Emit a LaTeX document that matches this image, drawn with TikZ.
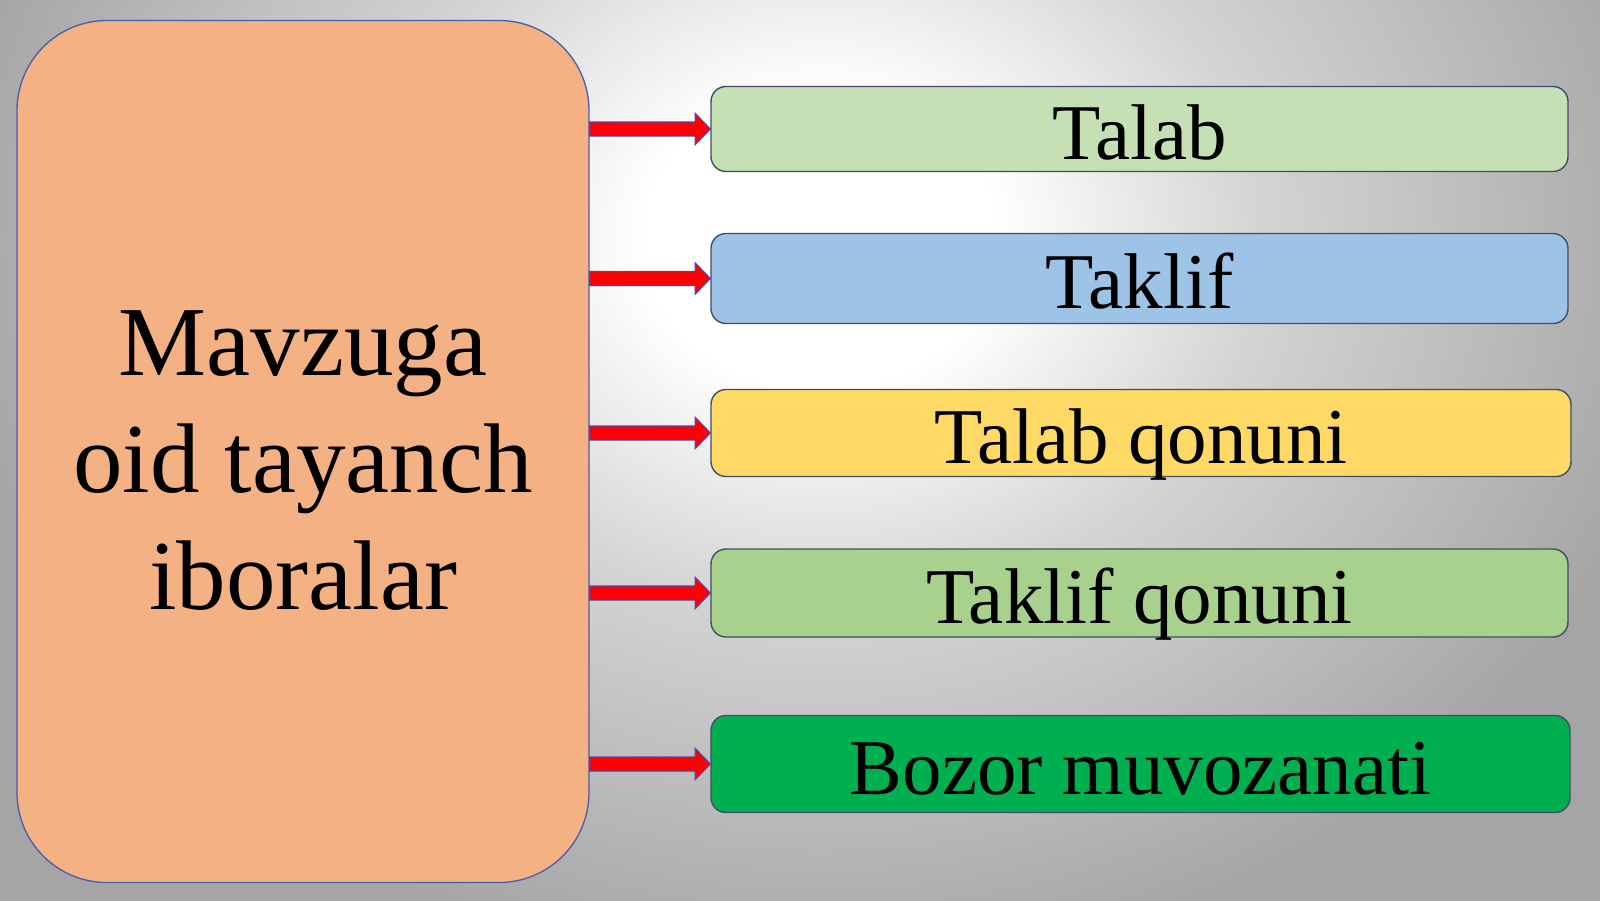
\documentclass[tikz,border=0pt]{standalone}
\usepackage{fontspec}
\setmainfont{Liberation Serif}
\usetikzlibrary{calc}
\definecolor{bggray}{RGB}{165,165,165}
\definecolor{bgmid}{RGB}{212,212,212}
\definecolor{peach}{RGB}{244,177,131}
\definecolor{topicline}{RGB}{72,92,172}
\definecolor{boxline}{RGB}{62,78,104}
\definecolor{arrowline}{RGB}{80,70,170}
\definecolor{talabfill}{RGB}{197,224,180}
\definecolor{takliffill}{RGB}{157,195,230}
\definecolor{qonunfill}{RGB}{255,217,102}
\definecolor{taklifqfill}{RGB}{169,209,142}
\definecolor{bozorfill}{RGB}{0,176,80}
\pgfdeclareradialshading{glow}{\pgfpoint{0bp}{0bp}}{color(0bp)=(white); color(2bp)=(white);
  color(5bp)=(bgmid); color(10bp)=(bggray); color(50bp)=(bggray)}
\tikzstyle{topicbox} = [draw=topicline, line width=1.3pt, fill=peach, rounded corners=90pt,
  minimum width=572pt, minimum height=862pt, inner sep=0pt, align=center,
  text height=317pt, font={\fontsize{99}{117}\selectfont}]
\tikzstyle{term} = [draw=boxline, line width=1.4pt, rounded corners=15pt, minimum width=857pt,
  inner sep=0pt, text height=60pt, text depth=0pt, font={\fontsize{79}{90}\selectfont}]
\tikzstyle{redarrow} = [draw=arrowline, line width=1.2pt, fill=red]
% block arrow from the topic box to a term box
\newcommand{\redarrow}[2]{%
  \draw[redarrow] ($(#1.east |- #2.west)+(0,-7)$) -- ($(#2.west)+(-15,-7)$)
    -- ($(#2.west)+(-15,-15.5)$) -- (#2.west) -- ($(#2.west)+(-15,15.5)$)
    -- ($(#2.west)+(-15,7)$) -- ($(#1.east |- #2.west)+(0,7)$) -- cycle;}

\begin{document}
\begin{tikzpicture}[x=1pt,y=-1pt]
  \useasboundingbox (0,0) rectangle (1600,900);
  \fill[bggray] (0,0) rectangle (1600,900);
  \begin{scope}
    \clip (0,0) rectangle (1600,900);
    \shade[shading=glow] (820,240) ellipse [x radius=2200, y radius=1850];
  \end{scope}
  \node[topicbox](topic) at (303,451.5){Mavzuga\\oid tayanch\\iboralar};
  \node[term,fill=talabfill,minimum height=85pt](talab) at (1139.5,129){Talab};
  \node[term,fill=takliffill,minimum height=90pt](taklif) at (1139.5,278.5){Taklif};
  \node[term,fill=qonunfill,minimum height=87pt,minimum width=860pt](talabq) at (1141,433){Talab qonuni};
  \node[term,fill=taklifqfill,minimum height=88pt](taklifq) at (1139.5,593){Taklif qonuni};
  \node[term,fill=bozorfill,minimum height=97pt,minimum width=859pt](bozor) at (1140.5,764){Bozor muvozanati};
  \redarrow{topic}{talab}
  \redarrow{topic}{taklif}
  \redarrow{topic}{talabq}
  \redarrow{topic}{taklifq}
  \redarrow{topic}{bozor}
\end{tikzpicture}
\end{document}
